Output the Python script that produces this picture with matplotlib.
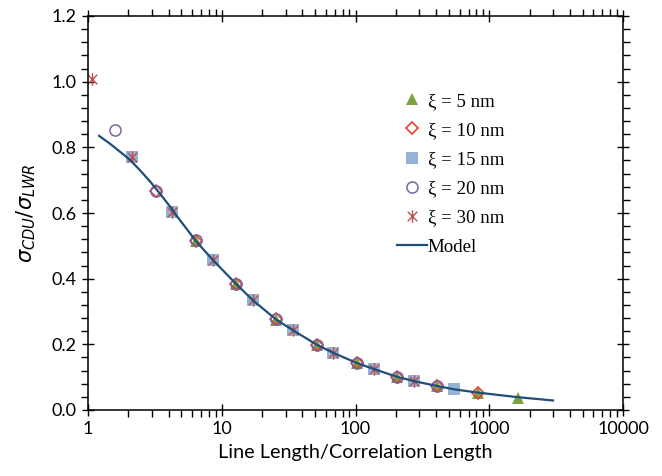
import numpy as np
import matplotlib
matplotlib.use("Agg")
import matplotlib.pyplot as plt
from matplotlib.path import Path
from matplotlib.ticker import FixedLocator, NullFormatter, MultipleLocator, FormatStrFormatter

# line lengths (nm) and correlation lengths
line_len = [32, 64, 128, 256, 512, 1024, 2048, 4096, 8192]
xi_vals = [5, 10, 15, 20, 30]
labels = ["\u03be = 5 nm", "\u03be = 10 nm", "\u03be = 15 nm", "\u03be = 20 nm", "\u03be = 30 nm"]

# sigma_CDU / sigma_LWR
y_xi5 = [0.515, 0.383, 0.275, 0.197, 0.142, 0.100, 0.072, 0.052, 0.037]
y_xi10 = [0.668, 0.516, 0.384, 0.276, 0.199, 0.143, 0.101, 0.073, 0.052]
y_xi15 = [0.771, 0.603, 0.458, 0.334, 0.243, 0.174, 0.125, 0.089, 0.064]
y_xi20 = [0.854, 0.668, 0.517, 0.384, 0.276, 0.199, 0.144, 0.101, 0.074]
y_xi30 = [1.008, 0.770, 0.603, 0.458, 0.334, 0.243, 0.174, 0.125, 0.088]

# model curve
model_x = [1.21, 1.46, 1.73, 2.06, 2.45, 2.91, 3.45, 4.1, 4.73, 6.4, 8.53, 12.8, 17.1, 25.6,
           34.1, 51.2, 68.3, 102.4, 136.5, 204.8, 273, 409.6, 546, 819.2, 1638.4, 3000]
model_y = [0.835, 0.811, 0.787, 0.762, 0.730, 0.696, 0.659, 0.620, 0.585, 0.515, 0.458, 0.384,
           0.334, 0.275, 0.243, 0.199, 0.174, 0.143, 0.125, 0.101, 0.088, 0.073, 0.063, 0.053,
           0.039, 0.029]

# asterisk marker: x plus vertical bar
star = Path([(-1, -1), (1, 1), (-1, 1), (1, -1), (0, -1.3), (0, 1.3)],
            [Path.MOVETO, Path.LINETO, Path.MOVETO, Path.LINETO, Path.MOVETO, Path.LINETO])

fig = plt.figure(figsize=(6.62, 4.76), dpi=100)
ax = fig.add_axes([88 / 662, 66 / 476, 535 / 662, 394 / 476])

ys = [y_xi5, y_xi10, y_xi15, y_xi20, y_xi30]
styles = [
    dict(marker="^", color="#7BA23F", markersize=8, markeredgewidth=0),
    dict(marker="D", markerfacecolor="none", markeredgecolor="#E0403A", markersize=6, markeredgewidth=1.2),
    dict(marker="s", color="#95B3D7", markersize=8, markeredgewidth=0),
    dict(marker="o", markerfacecolor="none", markeredgecolor="#8064A2", markersize=8, markeredgewidth=1.1),
    dict(marker=star, color="#C0504D", markersize=9, markeredgewidth=1.0, markerfacecolor="none"),
]
order = [0, 2, 1, 3, 4]
handles = [None] * 5
for i in order:
    x = [L / xi_vals[i] for L in line_len]
    h, = ax.plot(x, ys[i], linestyle="none", label=labels[i], **styles[i])
    handles[i] = h

hm, = ax.plot(model_x, model_y, color="#1F4E79", lw=1.6, label="Model")
handles.append(hm)

ax.set_xscale("log")
ax.set_xlim(1, 10000)
ax.set_ylim(0, 1.2)
ax.xaxis.set_major_locator(FixedLocator([1, 10, 100, 1000, 10000]))
ax.set_xticklabels(["1", "10", "100", "1000", "10000"])
ax.xaxis.set_minor_locator(FixedLocator([m * 10 ** d for d in range(4) for m in range(2, 10)]))
ax.xaxis.set_minor_formatter(NullFormatter())
ax.yaxis.set_major_locator(MultipleLocator(0.2))
ax.yaxis.set_minor_locator(MultipleLocator(0.04))
ax.yaxis.set_major_formatter(FormatStrFormatter("%.1f"))

ax.tick_params(which="both", top=True, right=True, labelsize=13, color="black")
ax.tick_params(which="major", direction="inout", length=9, width=1)
ax.tick_params(which="minor", direction="out", length=5, width=1)
for lab in ax.get_xticklabels() + ax.get_yticklabels():
    lab.set_family("Lato")
for s in ax.spines.values():
    s.set_linewidth(1.1)

ax.set_xlabel("Line Length/Correlation Length", family="Lato", fontsize=14.3, labelpad=5)
ax.set_ylabel(r"$\sigma_{CDU}/\sigma_{LWR}$", fontsize=15, labelpad=10)

leg = ax.legend(handles=handles, loc="upper left", bbox_to_anchor=(0.570, 0.815),
                frameon=False, prop={"family": "Liberation Serif", "size": 13.6},
                handlelength=1.6, handletextpad=0.05, labelspacing=0.63,
                borderpad=0.2, borderaxespad=0, numpoints=1)

fig.savefig("out.png", dpi=100)
